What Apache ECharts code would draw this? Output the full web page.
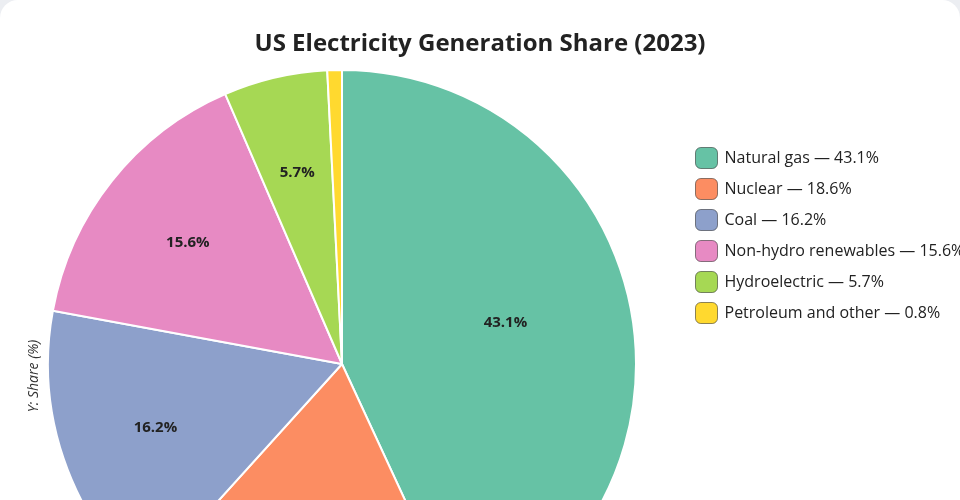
<!DOCTYPE html>
<html>
<head>
<meta charset="utf-8">
<script src="https://cdn.jsdelivr.net/npm/echarts@6/dist/echarts.min.js"></script>
<style>
  html, body { margin:0; padding:0; background:#eceef2; overflow:hidden; width:960px; height:500px; }
  #card { position:absolute; left:0; top:0; width:960px; height:540px; background:#fff; border-radius:18px; overflow:hidden; }
  #chart { width:960px; height:500px; }
</style>
</head>
<body>
<div id="card"><div id="chart"></div></div>
<script>
const categories = ['Natural gas', 'Nuclear', 'Coal', 'Non-hydro renewables', 'Hydroelectric', 'Petroleum and other'];
const shares = [43.1, 18.6, 16.2, 15.6, 5.7, 0.8];
const colors = ['#66c2a5', '#fc8d62', '#8da0cb', '#e78ac3', '#a6d854', '#ffd92f'];
const titleText = 'US Electricity Generation Share (2023)';
const axisLabel = 'Y: Share (%)';

const FONT = '"Open Sans", "Noto Sans", sans-serif';
const data = categories.map((c, i) => ({ name: c, value: shares[i], itemStyle: { color: colors[i] } }));
const R = 294, CX = 342, CY = 364;

const chart = echarts.init(document.getElementById('chart'), null, { renderer: 'canvas' });
chart.setOption({
  animation: false,
  backgroundColor: 'transparent',
  title: {
    text: titleText, left: 'center', top: 27,
    textStyle: { fontFamily: FONT, fontSize: 24, fontWeight: 'bold', color: '#222' }
  },
  legend: {
    orient: 'vertical', left: 695, top: 147, padding: 0,
    icon: 'roundRect', itemWidth: 22, itemHeight: 21, itemGap: 9,
    itemStyle: { borderColor: 'rgba(0,0,0,0.45)', borderWidth: 1 },
    textStyle: { fontFamily: FONT, fontSize: 16, color: '#222', padding: [0, 0, 0, 2] },
    formatter: function (name) {
      const i = categories.indexOf(name);
      return name + ' — ' + shares[i].toFixed(1) + '%';
    },
    data: categories
  },
  graphic: [{
    type: 'text', x: 34, y: 376, rotation: Math.PI / 2,
    style: { text: axisLabel, fontFamily: FONT, fontSize: 14, fontStyle: 'italic', fill: '#333', align: 'center', verticalAlign: 'middle' }
  }],
  series: [{
    type: 'pie', center: [CX, CY], radius: [0, R],
    startAngle: 90, clockwise: true, silent: true,
    itemStyle: { borderColor: '#fff', borderWidth: 2 },
    label: { show: false }, labelLine: { show: false },
    data: data
  }, {
    type: 'pie', center: [CX, CY], radius: [Math.round(R * 0.32), R],
    startAngle: 90, clockwise: true, silent: true,
    legendHoverLink: false,
    itemStyle: { color: 'rgba(0,0,0,0)', borderWidth: 0 },
    label: {
      show: true, position: 'inside',
      fontFamily: FONT, fontSize: 15, fontWeight: 'bold', color: '#222',
      formatter: function (p) { return p.value < 2 ? '' : p.value.toFixed(1) + '%'; }
    },
    labelLayout: function (p) { return p.dataIndex === 0 ? { dx: -29, dy: 1 } : { dy: 1 }; },
    labelLine: { show: false },
    data: categories.map((c, i) => ({ name: c + ' ', value: shares[i] }))
  }]
});
</script>
</body>
</html>
